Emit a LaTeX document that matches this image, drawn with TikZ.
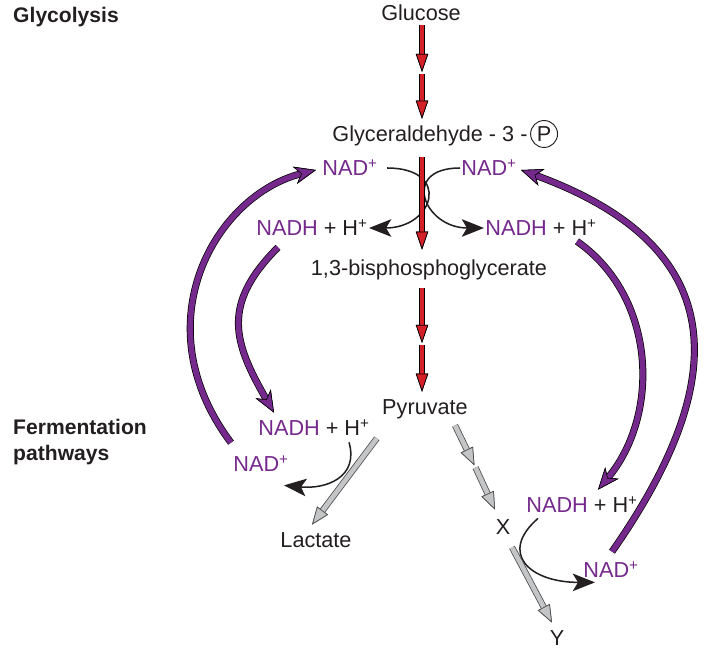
\documentclass[tikz,border=0pt]{standalone}
\usepackage{fontspec}
\setmainfont{Liberation Sans}
\usetikzlibrary{arrows.meta, positioning, calc}
\definecolor{txt}{RGB}{35,31,32}
\definecolor{purp}{RGB}{117,41,140}
\definecolor{glyred}{RGB}{214,32,40}
\definecolor{fgrey}{RGB}{196,197,199}
\definecolor{fedge}{RGB}{80,80,80}

\begin{document}
\begin{tikzpicture}[
    x=0.03cm, y=0.03cm, color=txt,
    lbl/.style={inner sep=1pt, text height=15pt, text depth=2pt, font=\fontsize{18.5}{20}\selectfont},
    head/.style={anchor=west, align=left, inner sep=0pt, font=\fontsize{18}{21.5}\selectfont\bfseries},
    phos/.style={draw, circle, line width=0.8pt, inner sep=0pt, minimum size=23pt, font=\fontsize{18.5}{20}\selectfont},
    redarr/.style={draw=glyred, line width=3.4pt, -{Triangle[length=15.5pt, width=10.5pt, fill=glyred, color=black, line width=0.6pt]}, preaction={draw=black, line width=5pt}},
    purarr/.style={draw=purp, line width=4.8pt, -{Stealth[length=18.5pt, width=15pt, inset=5.5pt, fill=purp, color=black, line width=0.5pt]}, preaction={draw=black, line width=6pt}},
    greyarr/.style={draw=fgrey, line width=4pt, -{Triangle[length=15pt, width=11.5pt, fill=fgrey, color=fedge, line width=0.6pt]}, preaction={draw=fedge, line width=5.4pt}},
    turn/.style={draw=txt, line width=1.3pt, -{Stealth[length=19pt, width=15pt, inset=4.5pt]}}
]
    \useasboundingbox (0,0) rectangle (710,-654);

    % Side headings
    \node[head] (glyc) at (13,-17) {Glycolysis};
    \node[head] (ferm) at (13,-442) {Fermentation\\pathways};

    % Main chain
    \node[lbl] (glucose) at (421,-13) {Glucose};
    \node[lbl, anchor=west] (g3p) at (331,-134) {Glyceraldehyde - 3 -};
    \node[phos, right=1pt of g3p] (pcirc) {P};
    \node[lbl] (bpg) at (429,-268) {1,3-bisphosphoglycerate};
    \node[lbl] (pyr) at (425,-407) {Pyruvate};
    \coordinate (c1) at (422,-73);
    \coordinate (c2) at (422,-344);

    % Upper redox pairs
    \node[lbl] (nadL) at (350,-168) {\color{purp}NAD\textsuperscript{+}};
    \node[lbl] (nadR) at (489,-168) {\color{purp}NAD\textsuperscript{+}};
    \node[lbl] (nadhL) at (312,-228) {\textcolor{purp}{NADH} + H\textsuperscript{+}};
    \node[lbl] (nadhR) at (541,-228) {\textcolor{purp}{NADH} + H\textsuperscript{+}};

    % Fermentation products
    \node[lbl] (nadhLL) at (314,-428) {\textcolor{purp}{NADH} + H\textsuperscript{+}};
    \node[lbl] (nadLL) at (261,-464) {\color{purp}NAD\textsuperscript{+}};
    \node[lbl] (lact) at (316,-540) {Lactate};
    \node[lbl] (xx) at (503,-527) {X};
    \node[lbl] (yy) at (557,-638) {Y};
    \node[lbl] (nadhLR) at (582,-505) {\textcolor{purp}{NADH} + H\textsuperscript{+}};
    \node[lbl] (nadLR) at (611,-570) {\color{purp}NAD\textsuperscript{+}};
    \coordinate (c3) at (475,-466.5);

    % Coupled turns
    \draw[turn] ([shift={(8,0)}]nadL.east) .. controls +(65,0) and +(65,0) .. (nadhL.east);
    \draw[turn] (nadR.west) .. controls +(-60,0) and +(-60,0) .. (nadhR.west);
    \draw[turn] ([shift={(-22,-3)}]nadhLL.south east) .. controls +(10,-35) and +(42,-4) .. ([shift={(-6,-10)}]nadLL.south east);
    \draw[turn] ([shift={(13,-2)}]nadhLR.south west) .. controls +(-40,-35) and +(-65,0) .. ([shift={(13,-1)}]nadLR.south west);

    % Glycolysis steps
    \draw[redarr, shorten <=0.8pt, shorten >=0.85pt] (c1 |- glucose.south) -- (c1);
    \draw[redarr, shorten <=0.85pt, shorten >=3.3pt] (c1) -- (c1 |- g3p.north);
    \draw[redarr, shorten <=10.1pt, shorten >=5.9pt] (c1 |- g3p.south) -- (c1 |- bpg.north);
    \draw[redarr, shorten <=7.6pt, shorten >=0.85pt] (c1 |- bpg.south) -- (c2);
    \draw[redarr, shorten <=0.85pt, shorten >=3.3pt] (c2) -- (c1 |- pyr.north);

    % Fermentation steps
    \draw[greyarr] ([shift={(-4,-20)}]pyr.south west) -- ([shift={(-4,4)}]lact.north);
    \draw[greyarr, shorten >=1pt] ([shift={(30,-7)}]pyr.south) -- (c3);
    \draw[greyarr, shorten <=1pt] (c3) -- ([shift={(-8,6)}]xx.north);
    \draw[greyarr] ([shift={(9,-9)}]xx.south) -- ([shift={(-5,4)}]yy.north);

    % NAD+ recycling
    \draw[purarr] ([shift={(-1,10)}]nadLL.north west) .. controls +(-90,120) and +(-100,-25) .. ([shift={(-5,-2)}]nadL.west);
    \draw[purarr] ([shift={(23,-8)}]nadhL.south west) to[out=225, in=120, looseness=1.25] ([shift={(17,4)}]nadhLL.north west);
    \draw[purarr] ([shift={(-21,-2)}]nadhR.south east) to[out=-35, in=50, looseness=1.0] ([shift={(16,4)}]nadhLR.north);
    \draw[purarr] ([shift={(1,7)}]nadLR.north) to[out=55, in=-20, looseness=1.42] ([shift={(3,-2)}]nadR.east);
\end{tikzpicture}
\end{document}
